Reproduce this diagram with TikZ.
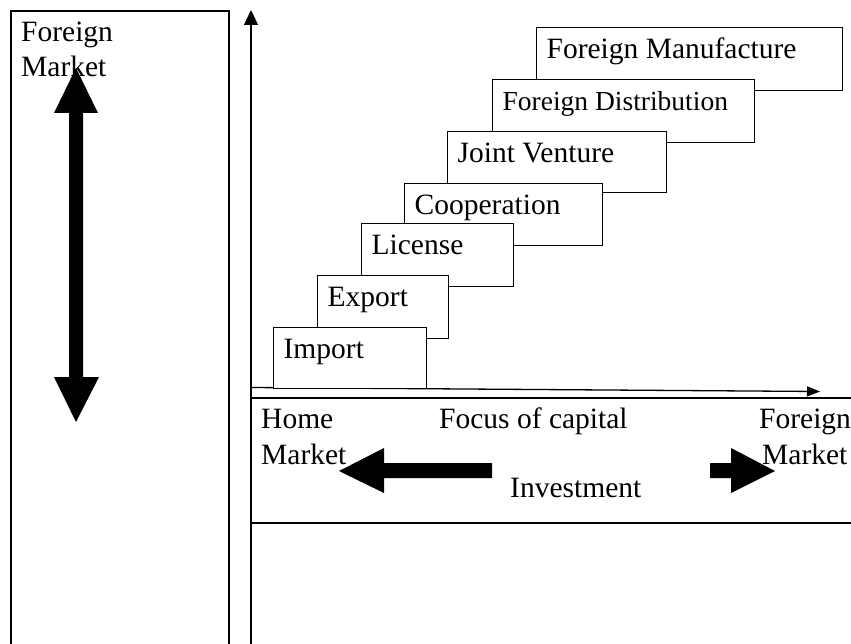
\documentclass[tikz,border=0pt]{standalone}
\usepackage{fontspec}
\setmainfont{Liberation Serif}
\usetikzlibrary{arrows.meta}
\tikzset{
  stepbox/.style={draw, line width=1.3pt, fill=white, anchor=north west, align=flush left,
    inner xsep=10pt, inner ysep=0pt, text height=31pt, font=\fontsize{29.5}{35}\selectfont},
  lbl/.style={anchor=base west, inner sep=0pt, font=\fontsize{29.5}{35}\selectfont},
  frame/.style={draw, line width=1.3pt},
  axis/.style={line width=1.3pt},
  blockarrow/.style={fill=black}
}
\begin{document}
\begin{tikzpicture}[x=1pt,y=-1pt]
\useasboundingbox (0,0) rectangle (851,644);
\clip (0,0) rectangle (851,644);
% left panel
\draw[frame] (11,11) rectangle (229,670);
\node[lbl] (lf) at (21,42) {Foreign};
\node[lbl] (lm) at (21,77) {Market};
% axes
\coordinate (o) at (251,387.5);
\coordinate (ytop) at (251,10);
\coordinate (ybot) at (251,660);
\coordinate (xend) at (820,391.5);
\draw[axis, -{Triangle[length=15pt,width=14pt]}] (ybot) -- (ytop);
\draw[axis, -{Triangle[length=13pt,width=10pt]}] (o) -- (xend);
% bottom band
\draw[frame] (870,398) -- (251,398) -- (251,523) -- (870,523);
\node[lbl] (hh) at (261,428) {Home};
\node[lbl] (hm) at (261,464) {Market};
\node[lbl] (fc) at (439,428) {Focus of capital};
\node[lbl] (inv) at (510,497) {Investment};
\node[lbl] (ff) at (759,428) {Foreign};
\node[lbl] (fm) at (762,464) {Market};
% steps (upper first, lower on top)
\node[stepbox, text width=286pt, text depth=32pt] (s7) at (536,27) {Foreign Manufacture};
\node[stepbox, text width=242pt, text depth=32pt, font=\fontsize{27.5}{33}\selectfont] (s6) at (492,79) {Foreign Distribution};
\node[stepbox, text width=199pt, text depth=30pt] (s5) at (447,131) {Joint Venture};
\node[stepbox, text width=178pt, text depth=31pt] (s4) at (404,183) {Cooperation};
\node[stepbox, text width=132pt, text depth=32pt] (s3) at (361,223) {License};
\node[stepbox, text width=111pt, text depth=32pt] (s2) at (317,275) {Export};
\node[stepbox, text width=133pt, text depth=30pt] (s1) at (273,327) {Import};
% block arrows
\fill[blockarrow] (76,68) -- (98,113) -- (83,113) -- (83,377) -- (99,377) -- (76,422)
  -- (54,377) -- (69,377) -- (69,113) -- (54,113) -- cycle;
\fill[blockarrow] (339,471) -- (384,448) -- (384,463) -- (492,463) -- (492,478) -- (384,478) -- (384,493) -- cycle;
\fill[blockarrow] (775,471) -- (731,448) -- (731,463) -- (710,463) -- (710,478) -- (731,478) -- (731,493) -- cycle;
\end{tikzpicture}
\end{document}
